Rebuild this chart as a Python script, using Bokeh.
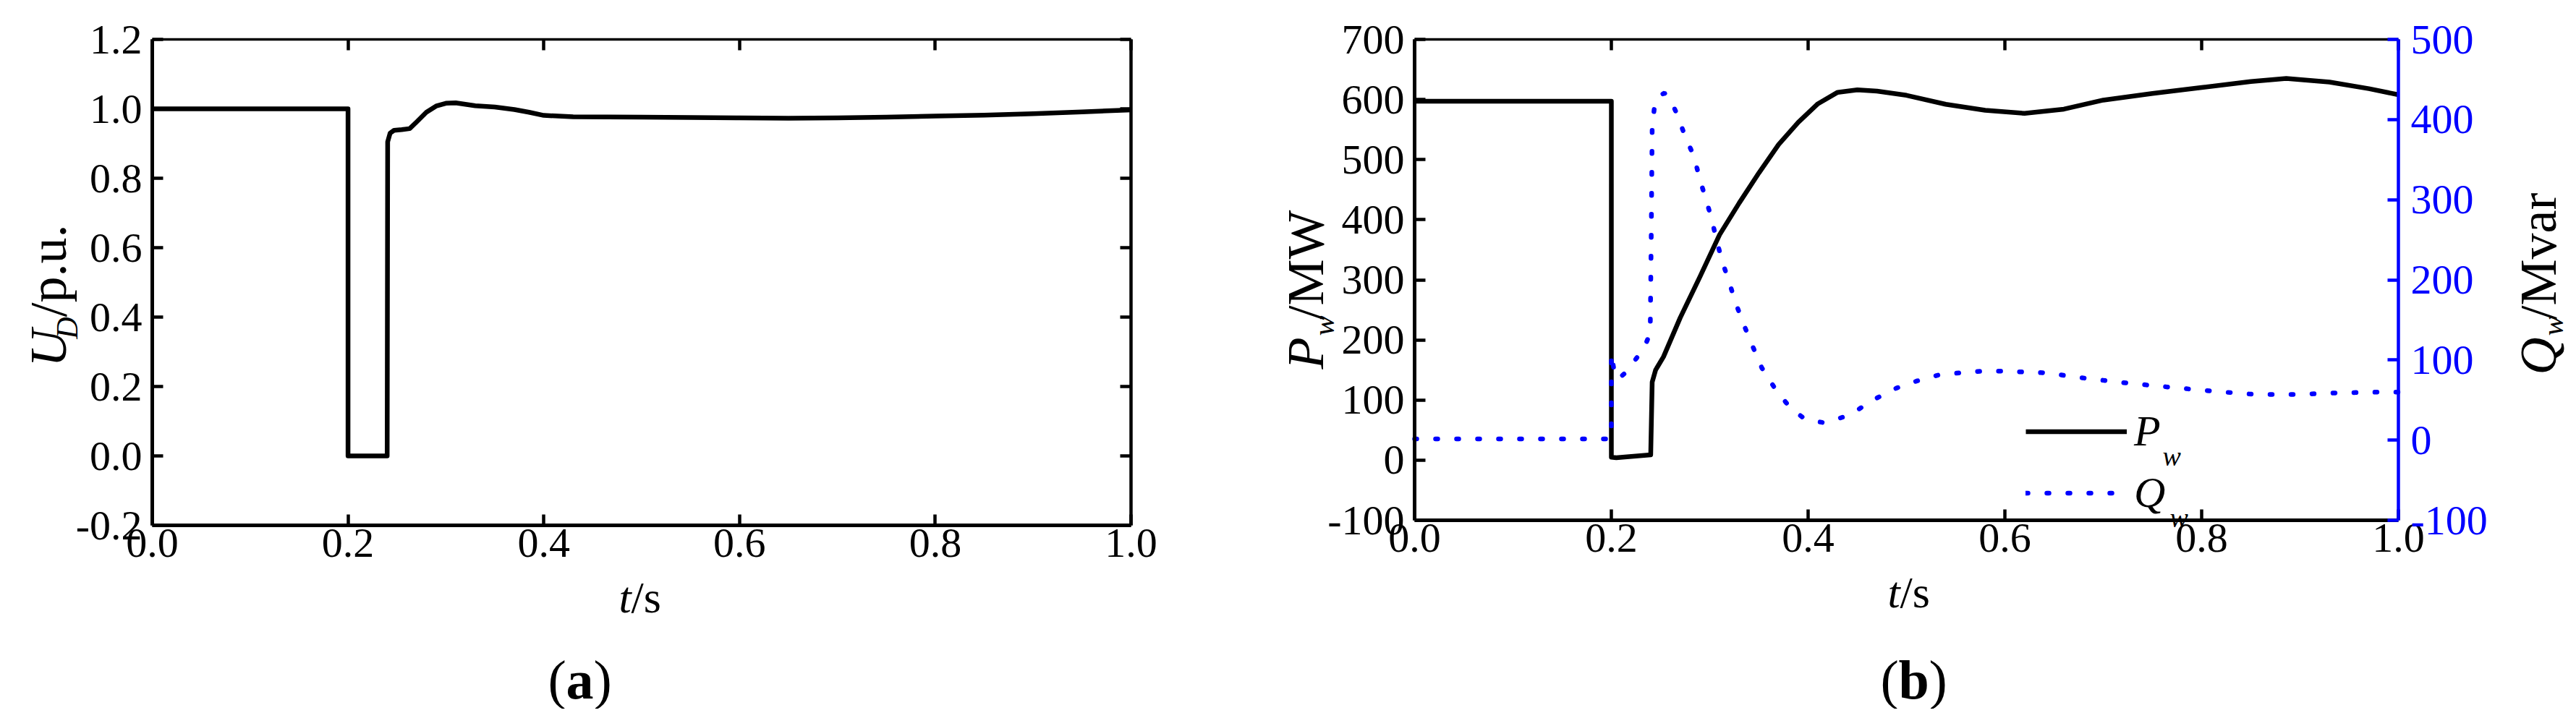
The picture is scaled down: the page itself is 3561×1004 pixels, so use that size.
import math
from bokeh.plotting import figure
from bokeh.layouts import row
from bokeh.models import (Range1d, LinearAxis, FixedTicker, NumeralTickFormatter,
                          Label, Legend, LegendItem)
from bokeh.embed import file_html
from bokeh.resources import INLINE

#data (a): voltage U_D
t_a = [0.0, 0.2, 0.2, 0.24, 0.2405, 0.243, 0.247, 0.255, 0.263, 0.27, 0.28, 0.29,
       0.30, 0.31, 0.33, 0.35, 0.37, 0.385, 0.40, 0.43, 0.50, 0.55, 0.60, 0.65,
       0.70, 0.75, 0.80, 0.85, 0.90, 0.95, 1.0]
u_d = [1.0, 1.0, 0.0, 0.0, 0.905, 0.93, 0.938, 0.94, 0.943, 0.962, 0.99, 1.008,
       1.016, 1.017, 1.009, 1.005, 0.998, 0.99, 0.981, 0.977, 0.976, 0.975, 0.974, 0.973,
       0.974, 0.976, 0.979, 0.982, 0.986, 0.991, 0.997]

#data (b): active power P_w (left axis)
t_p = [0.0, 0.2, 0.2, 0.205, 0.24, 0.2415, 0.245, 0.253, 0.27, 0.29, 0.31, 0.33,
       0.35, 0.37, 0.39, 0.41, 0.43, 0.45, 0.47, 0.50, 0.54, 0.58, 0.62, 0.66,
       0.70, 0.75, 0.80, 0.85, 0.886, 0.93, 0.97, 1.0]
p_w = [597, 597, 5, 4, 9, 130, 150, 172, 237, 305, 375, 428,
       478, 525, 562, 593, 612, 616, 614, 607, 592, 582, 577, 584,
       599, 610, 620, 630, 635, 629, 618, 608]

#data (b): reactive power Q_w (right axis)
t_q = [0.0, 0.2, 0.2, 0.203, 0.207, 0.215, 0.226, 0.235, 0.2395, 0.2405, 0.2415, 0.244,
       0.249, 0.254, 0.26, 0.267, 0.275, 0.284, 0.29, 0.296, 0.302, 0.307, 0.313, 0.32,
       0.327, 0.335, 0.344, 0.353, 0.366, 0.382, 0.395, 0.405, 0.415, 0.424, 0.436, 0.448,
       0.469, 0.49, 0.511, 0.532, 0.554, 0.576, 0.597, 0.641, 0.683, 0.726, 0.768, 0.812,
       0.854, 0.897, 0.939, 0.984, 1.0]
q_w = [1.5, 1.5, 108, 85, 76, 85, 103, 120, 134, 250, 390, 418,
       430, 433, 425, 406, 379, 354, 325, 301, 276, 249, 222, 196,
       169, 143, 116, 90, 65, 40, 28, 24, 22, 24, 29, 36,
       52, 65, 74, 81, 84, 86, 86, 84, 77, 71, 66, 61,
       57, 57, 59, 60, 60]

#ticks
x_ticks = [0.0, 0.2, 0.4, 0.6, 0.8, 1.0]
ua_ticks = [-0.2, 0.0, 0.2, 0.4, 0.6, 0.8, 1.0, 1.2]
p_ticks = [-100, 0, 100, 200, 300, 400, 500, 600, 700]
q_ticks = [-100, 0, 100, 200, 300, 400, 500]

FONT = "Liberation Serif"
BLUE = "#0000ff"
H = 980          # height of both canvases
rot = math.pi / 2


#Style one axis: ticks pointing inside, serif labels, drawn at a fixed place
def style_axis(axis, ticks, loc, bounds, color="black", width=5, labels=True,
               standoff=14, fmt="0.0"):
    axis.fixed_location = loc
    axis.bounds = bounds
    axis.ticker = FixedTicker(ticks=ticks)
    axis.formatter = NumeralTickFormatter(format=fmt)
    axis.axis_line_color = color
    axis.axis_line_width = width
    axis.major_tick_line_color = color
    axis.major_tick_line_width = 4.5
    axis.major_tick_in = 15
    axis.major_tick_out = 0
    axis.minor_tick_line_color = None
    axis.major_label_text_font = FONT
    axis.major_label_text_font_size = "58px"
    axis.major_label_text_color = color
    axis.major_label_standoff = standoff
    if not labels:
        axis.major_label_overrides = {t: "" for t in ticks}


#Put a text piece
def text(p, x, y, txt, size, style="normal", color="black", angle=0.0, align="left"):
    p.add_layout(Label(x=x, y=y, text=txt, text_font=FONT, text_font_size=f"{size}px",
                       text_font_style=style, text_color=color, angle=angle,
                       text_align=align, text_baseline="alphabetic"))


#Vertical text piece, anchored at its upper end
def vtext(p, x, y, txt, size, style="normal"):
    text(p, x, y, txt, size, style, angle=rot, align="right")


#Canvas whose frame is the whole figure; axes sit at fixed places inside it
def make_fig(w, xr, yr):
    p = figure(title=None, frame_width=w, frame_height=H, x_range=xr, y_range=yr,
               toolbar_location=None, output_backend="svg", min_border=0,
               x_axis_type=None, y_axis_type=None)
    p.outline_line_color = None
    p.background_fill_color = "white"
    p.border_fill_color = "white"
    return p


##################################
#Panel (a): canvas at page x 8, plot box 218..1571 x 62..734
WA = 1640
ax = lambda px: (px - 218) / 1353
ay = lambda py: 1.2 - (py - 62) * 1.4 / 672
pa = make_fig(WA, Range1d(ax(8), ax(8 + WA)), Range1d(ay(8 + H), ay(8)))

bottom_a = LinearAxis()
style_axis(bottom_a, x_ticks, -0.2, (0, 1), standoff=5)
pa.add_layout(bottom_a, "below")
left_a = LinearAxis()
style_axis(left_a, ua_ticks, 0.0, (-0.2, 1.2))
pa.add_layout(left_a, "left")
top_a = LinearAxis()
style_axis(top_a, x_ticks, 1.2, (0, 1), width=3.5, labels=False)
pa.add_layout(top_a, "above")
right_a = LinearAxis()
style_axis(right_a, ua_ticks, 1.0, (-0.2, 1.2), width=4.5, labels=False)
pa.add_layout(right_a, "right")

pa.line(t_a, u_d, line_color="black", line_width=6.5, line_join="round")

vtext(pa, ax(74), ay(463), "U", 72, "italic")
vtext(pa, ax(100), ay(446), "D", 42, "italic")
vtext(pa, ax(74), ay(318), "/p.u.", 72)
text(pa, ax(863), ay(833), "t", 62, "italic")
text(pa, ax(880), ay(833), "/s", 62)
text(pa, ax(765), ay(947), "(", 76)
text(pa, ax(790), ay(947), "a", 76, "bold")
text(pa, ax(828), ay(947), ")", 76)

##################################
#Panel (b): canvas right after (a), plot box 1963..3323 x 62..727
X0 = 8 + WA
WB = 3553 - X0
bx = lambda px: (px - 1963) / 1360
by = lambda py: 700 - (py - 62) * 800 / 665
bq = lambda py: 500 - (py - 62) * 600 / 665
pb = make_fig(WB, Range1d(bx(X0), bx(X0 + WB)), Range1d(by(8 + H), by(8)))
pb.extra_y_ranges = {"q": Range1d(bq(8 + H), bq(8))}

bottom_b = LinearAxis()
style_axis(bottom_b, x_ticks, -100, (0, 1), standoff=5)
pb.add_layout(bottom_b, "below")
left_b = LinearAxis()
style_axis(left_b, p_ticks, 0.0, (-100, 700), fmt="0")
pb.add_layout(left_b, "left")
top_b = LinearAxis()
style_axis(top_b, x_ticks, 700, (0, 1), width=3.5, labels=False)
pb.add_layout(top_b, "above")
right_b = LinearAxis(y_range_name="q")
style_axis(right_b, q_ticks, 1.0, (-100, 500), color=BLUE, width=4.5, standoff=17, fmt="0")
pb.add_layout(right_b, "right")

rp = pb.line(t_p, p_w, line_color="black", line_width=6.5, line_join="round")
rq = pb.line(t_q, q_w, y_range_name="q", line_color=BLUE, line_width=6.5,
             line_dash="3 26", line_cap="round")

legend = Legend(items=[LegendItem(label="P", renderers=[rp]),
                       LegendItem(label="Q", renderers=[rq])],
                location=(2808 - X0, 8 + H - 732), glyph_width=140, glyph_height=85,
                label_height=85, label_standoff=10, padding=0, spacing=0, margin=0,
                border_line_color=None, background_fill_alpha=0,
                label_text_font=FONT, label_text_font_size="60px",
                label_text_font_style="italic", label_text_color="black")
pb.add_layout(legend)

vtext(pb, bx(1812), by(474), "P", 72, "italic")
vtext(pb, bx(1837), by(444), "w", 42, "italic")
vtext(pb, bx(1812), by(298), "/MW", 72)
vtext(pb, bx(3516), by(474), "Q", 72, "italic")
vtext(pb, bx(3536), by(444), "w", 42, "italic")
vtext(pb, bx(3516), by(274), "/Mvar", 72)
text(pb, bx(2617), by(826), "t", 62, "italic")
text(pb, bx(2634), by(826), "/s", 62)
text(pb, bx(2607), by(947), "(", 76)
text(pb, bx(2632), by(947), "b", 76, "bold")
text(pb, bx(2674), by(947), ")", 76)
#legend subscripts
text(pb, bx(2997), by(638), "w", 38, "italic")
text(pb, bx(3007), by(723), "w", 38, "italic")

layout = row(pa, pb)
open("out.html", "w").write(file_html(layout, INLINE))
